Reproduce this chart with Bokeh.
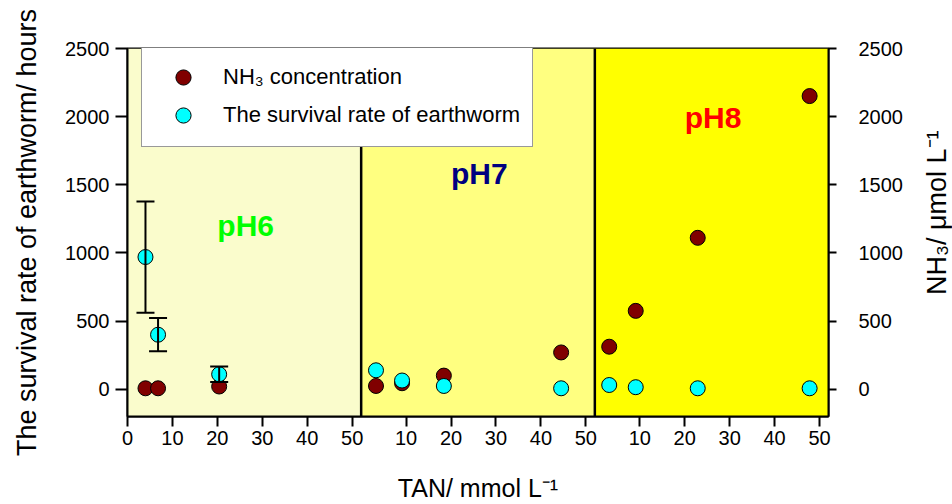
import math
from bokeh.plotting import figure
from bokeh.layouts import row
from bokeh.models import (Range1d, LinearAxis, FixedTicker, BoxAnnotation, Span, Label,
                          Legend, LegendItem, Whisker, TeeHead, ColumnDataSource)
from bokeh.embed import file_html
from bokeh.resources import INLINE

# --- data -------------------------------------------------------------
ph_blocks = ["pH6", "pH7", "pH8"]
ph_label_colors = ["#00FF00", "#000080", "#FF0000"]
ph_fill_colors = ["#FAFCCC", "#FFFF80", "#FFFF00"]

# TAN levels (mmol/L) inside each pH block
tan_ph6 = [4.0, 6.8, 20.4]
tan_ph7 = [3.3, 9.1, 18.4, 44.5]
tan_ph8 = [3.2, 9.1, 22.9, 47.8]

# survival time of earthworm (hours)
survival_ph6 = [970, 400, 110]
survival_ph7 = [139, 64, 24, 7]
survival_ph8 = [31, 15, 7, 7]
survival_err_ph6 = [408, 122, 57]

# NH3 concentration (umol/L)
nh3_ph6 = [7, 7, 20]
nh3_ph7 = [24, 44, 100, 270]
nh3_ph8 = [312, 575, 1111, 2151]

tan_tick_values = [10, 20, 30, 40, 50]
y_tick_values = [0, 500, 1000, 1500, 2000, 2500]

# --- layout constants -------------------------------------------------
FONT = "Liberation Sans"
BLOCK = 52            # width of one pH block on the shared x axis
X_MAX = 3 * BLOCK
Y_MIN, Y_MAX = -200, 2500
ph_label_y = [1200, 1585, 1995]
MAIN_W, SIDE_W, H = 910, 42, 504

tan_blocks = [tan_ph6, tan_ph7, tan_ph8]
surv_blocks = [survival_ph6, survival_ph7, survival_ph8]
nh3_blocks = [nh3_ph6, nh3_ph7, nh3_ph8]

x_all, surv_all, nh3_all = [], [], []
for i, (t, s, n) in enumerate(zip(tan_blocks, surv_blocks, nh3_blocks)):
    x_all += [v + i * BLOCK for v in t]
    surv_all += s
    nh3_all += n

src_surv = ColumnDataSource(dict(x=x_all, y=surv_all))
src_nh3 = ColumnDataSource(dict(x=x_all, y=nh3_all))
src_err = ColumnDataSource(dict(
    x=tan_ph6,
    upper=[v + e for v, e in zip(survival_ph6, survival_err_ph6)],
    lower=[v - e for v, e in zip(survival_ph6, survival_err_ph6)],
))

# --- main figure ------------------------------------------------------
p = figure(width=MAIN_W, height=H, output_backend="svg", toolbar_location=None,
           x_range=Range1d(0, X_MAX), y_range=Range1d(Y_MIN, Y_MAX),
           min_border_left=127, min_border_right=MAIN_W - 828,
           min_border_top=48, min_border_bottom=86)
p.background_fill_color = "white"
p.border_fill_color = "white"
p.outline_line_color = "black"
p.outline_line_width = 2
p.xgrid.visible = False
p.ygrid.visible = False

p.extra_y_ranges = {"nh3": Range1d(Y_MIN, Y_MAX)}

# pH block backgrounds and separators
for i, col in enumerate(ph_fill_colors):
    kw = {}
    if i > 0:
        kw["left"] = i * BLOCK
    if i < 2:
        kw["right"] = (i + 1) * BLOCK
    p.add_layout(BoxAnnotation(fill_color=col, fill_alpha=1, line_alpha=0,
                               level="underlay", **kw))
for i in (1, 2):
    p.add_layout(Span(location=i * BLOCK, dimension="height",
                      line_color="black", line_width=2.5, level="underlay"))

# NH3 series (right axis)
r_nh3 = p.scatter("x", "y", source=src_nh3, size=15, fill_color="#800000",
                  line_color="black", line_width=1, y_range_name="nh3")

# error bars for the pH6 survival times
wh = Whisker(source=src_err, base="x", upper="upper", lower="lower",
             line_color="black", line_width=2, level="glyph",
             upper_head=TeeHead(size=18, line_color="black", line_width=2),
             lower_head=TeeHead(size=18, line_color="black", line_width=2))
p.add_layout(wh)

# survival series (left axis)
r_surv = p.scatter("x", "y", source=src_surv, size=15, fill_color="#00FFFF",
                   line_color="black", line_width=1)

# pH block labels
for i, (name, col) in enumerate(zip(ph_blocks, ph_label_colors)):
    p.add_layout(Label(x=i * BLOCK + 26.3, y=ph_label_y[i], text=name,
                       text_align="center", text_baseline="alphabetic",
                       text_color=col, text_font=FONT, text_font_style="bold",
                       text_font_size="30px"))

# --- axes -------------------------------------------------------------
tick_pos, tick_lab = [0], {0: "0"}
for i in range(3):
    for v in tan_tick_values:
        tick_pos.append(i * BLOCK + v)
        tick_lab[i * BLOCK + v] = str(v)

xa = p.xaxis[0]
xa.ticker = FixedTicker(ticks=tick_pos)
xa.major_label_overrides = tick_lab
xa.axis_label = "TAN/ mmol L⁻¹"
xa.axis_label_standoff = 26
xa.axis_label_text_font_size = "25px"

ya = p.yaxis[0]
ya.ticker = FixedTicker(ticks=y_tick_values)
ya.axis_label = "The survival rate of earthworm/ hours"
ya.axis_label_standoff = 20
ya.axis_label_text_font_size = "27px"

yr = LinearAxis(y_range_name="nh3", ticker=FixedTicker(ticks=y_tick_values))
p.add_layout(yr, "right")

for ax, tick_out, lab_off in ((xa, 10, 4), (ya, 12, 6), (yr, 8, 22)):
    ax.axis_line_color = "black"
    ax.axis_line_width = 2
    ax.major_tick_line_color = "black"
    ax.major_tick_line_width = 2
    ax.major_tick_in = 0
    ax.major_tick_out = tick_out
    ax.minor_tick_line_color = None
    ax.major_label_standoff = lab_off
    ax.major_label_text_font = FONT
    ax.major_label_text_font_size = "20px"
    ax.major_label_text_color = "black"
    ax.axis_label_text_font = FONT
    ax.axis_label_text_font_style = "normal"
    ax.axis_label_text_color = "black"

# --- legend -----------------------------------------------------------
legend = Legend(items=[LegendItem(label="NH₃ concentration", renderers=[r_nh3]),
                       LegendItem(label="The survival rate of earthworm", renderers=[r_surv])],
                location=(14, 269), margin=0, padding=12, spacing=-5,
                glyph_width=58, glyph_height=38, label_height=38, label_standoff=11,
                label_text_font=FONT, label_text_font_size="22px",
                label_text_color="black",
                border_line_color="#333333", border_line_width=1.5,
                background_fill_color="white", background_fill_alpha=1)
p.add_layout(legend)

# --- right-hand title strip (reads bottom to top) ---------------------
side = figure(width=SIDE_W, height=H, output_backend="svg", toolbar_location=None,
              x_range=Range1d(0, SIDE_W), y_range=Range1d(0, H),
              min_border=0, outline_line_color=None)
side.axis.visible = False
side.grid.visible = False
side.background_fill_color = "white"
side.border_fill_color = "white"
side.add_layout(Label(x=26, y=H - 225, text="NH₃/ μmol L⁻¹", angle=math.pi / 2,
                      text_align="center", text_baseline="middle", text_font=FONT,
                      text_font_size="27px", text_color="black"))

layout = row(p, side, spacing=0)
open("out.html", "w").write(file_html(layout, INLINE))
